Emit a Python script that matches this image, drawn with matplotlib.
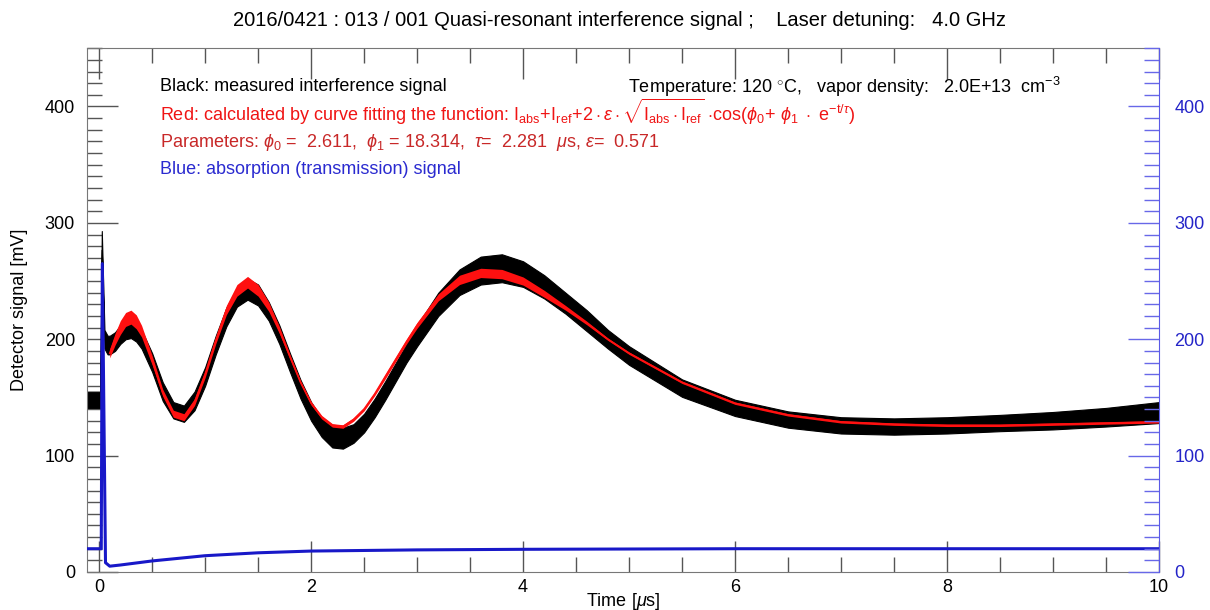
import numpy as np
import matplotlib.pyplot as plt
from matplotlib.ticker import MultipleLocator

plt.rcParams['font.family'] = ['Liberation Sans', 'DejaVu Sans']
plt.rcParams['mathtext.fontset'] = 'custom'
plt.rcParams['mathtext.rm'] = 'Liberation Sans'
plt.rcParams['mathtext.it'] = 'Liberation Sans:italic'
plt.rcParams['mathtext.sf'] = 'Liberation Sans'

# Measured interference signal (black band: centre and half-width), mV
t_meas = [-0.11, 0.0, 0.01, 0.025, 0.05, 0.08, 0.10, 0.15, 0.20, 0.25, 0.30, 0.35, 0.40,
          0.50, 0.60, 0.70, 0.80, 0.90, 1.00, 1.10, 1.20, 1.30, 1.40, 1.50, 1.60, 1.70,
          1.80, 1.90, 2.00, 2.10, 2.20, 2.30, 2.40, 2.50, 2.60, 2.70, 2.80, 2.90, 3.00,
          3.20, 3.40, 3.60, 3.80, 4.00, 4.20, 4.40, 4.60, 4.80, 5.00, 5.50, 6.00, 6.50,
          7.00, 7.50, 8.00, 8.50, 9.00, 9.50, 10.0]
meas = [148, 148, 148, 285, 200, 195, 195, 198, 204, 208, 209, 206, 200,
        180, 155, 139, 136, 147, 168, 195, 219, 236, 243, 238, 224, 204,
        180, 157, 138, 124, 116, 115, 119, 128, 141, 156, 172, 188, 203,
        230, 249, 259, 261, 256, 245, 231, 216, 200, 186, 158, 141, 131,
        126, 125, 126, 128, 130, 133, 137]
meas_spread = [7, 7, 7, 8, 8, 8, 8, 8, 8, 8, 8, 8, 8,
               8, 8, 7, 7, 8, 8, 8, 8, 8, 9, 9, 8, 8,
               8, 8, 8, 8, 9, 9, 8, 8, 8, 8, 8, 8, 9,
               10, 11, 12, 12, 11, 10, 9, 9, 8, 8, 7.5, 7, 7,
               7, 7, 7, 7, 7.5, 8, 9]

# Fitted curve (red): centre and band half-width, mV
t_fit = [0.10, 0.15, 0.20, 0.25, 0.30, 0.35, 0.40, 0.50, 0.60, 0.70, 0.80, 0.90, 1.00,
         1.10, 1.20, 1.30, 1.40, 1.50, 1.60, 1.70, 1.80, 1.90, 2.00, 2.10, 2.20, 2.30,
         2.40, 2.50, 2.60, 2.70, 2.80, 2.90, 3.00, 3.20, 3.40, 3.60, 3.80, 4.00, 4.20,
         4.40, 4.60, 4.80, 5.00, 5.50, 6.00, 6.50, 7.00, 7.50, 8.00, 8.50, 9.00, 9.50, 10.0]
fit = [188, 200, 210, 217, 219, 215, 207, 182, 154, 136, 133, 146, 170,
       199, 225, 242, 249, 242, 228, 208, 185, 163, 145, 133, 126, 125,
       131, 140, 153, 168, 183, 198, 212, 236, 251, 257, 256, 250, 239,
       227, 214, 200, 188, 163, 145, 135, 129, 127, 126, 126, 127, 128, 129]
fit_spread = [4, 5, 6, 6, 6, 6, 5, 4, 3, 3, 3, 3, 3,
              3, 4, 5, 5, 5, 4, 3, 2, 1.5, 1.5, 1.5, 1.5, 1.5,
              1.5, 1.5, 1.5, 2, 2, 2, 2.5, 3, 4, 4, 4, 3.5, 3,
              2, 1.5, 1, 1, 1, 1, 1, 1, 1, 1, 1, 1, 1, 1]

# Absorption (transmission) signal (blue), mV
t_abs = [-0.11, 0.02, 0.03, 0.06, 0.10, 0.20, 0.50, 1.00, 1.50, 2.00, 3.00, 4.00,
         6.00, 8.00, 10.0]
absorb = [20, 20, 265, 8, 5, 6, 9.5, 14, 16.5, 18, 19, 19.5, 20, 20, 20]

x_ticks = [0, 2, 4, 6, 8, 10]
y_ticks = [0, 100, 200, 300, 400]

fig = plt.figure(figsize=(12.1, 6.1), dpi=100)
ax = fig.add_axes([0.0723, 0.0623, 0.8856, 0.8585])

t_meas = np.array(t_meas)
meas = np.array(meas)
meas_spread = np.array(meas_spread)
t_fit = np.array(t_fit)
fit = np.array(fit)
fit_spread = np.array(fit_spread)

# black measured band
ax.fill_between(t_meas, meas - meas_spread, meas + meas_spread, color='black', lw=0.8, zorder=2)
# red fit
ax.fill_between(t_fit, fit - fit_spread, fit + fit_spread, color='#ff1010', lw=0, zorder=3)
ax.plot(t_fit, fit, color='#ff1010', lw=1.2, zorder=3)
# blue absorption
ax.plot(t_abs, absorb, color='#1818c8', lw=2.2, zorder=4)

ax.set_xlim(-0.11, 10)
ax.set_ylim(0, 450)
ax.set_xticks(x_ticks)
ax.set_yticks(y_ticks)
ax.xaxis.set_minor_locator(MultipleLocator(0.5))
ax.yaxis.set_minor_locator(MultipleLocator(10))
ax.tick_params(axis='both', which='major', direction='in', length=22, width=1.0,
               color='#555555', labelsize=13, top=True, right=False)
ax.tick_params(axis='both', which='minor', direction='in', length=10.5, width=1.0,
               color='#555555', top=True, right=False)
ax.tick_params(axis='x', which='major', pad=5)
ax.tick_params(axis='y', which='major', pad=9)
for s in ['left', 'bottom', 'top']:
    ax.spines[s].set_color('#777777')
ax.spines['right'].set_visible(False)

# right axis in blue, same scale
ax2 = ax.twinx()
ax2.set_ylim(0, 450)
ax2.set_yticks(y_ticks)
ax2.yaxis.set_minor_locator(MultipleLocator(10))
ax2.tick_params(axis='y', which='major', direction='in', length=22, width=1.0,
                color='#6868e8', labelcolor='#2424c8', labelsize=13, pad=11)
ax2.tick_params(axis='y', which='minor', direction='in', length=11, width=1.0, color='#6868e8')
ax2.spines['right'].set_color('#5a5ae6')
for s in ['left', 'bottom', 'top']:
    ax2.spines[s].set_visible(False)

ax.set_xlabel(r'Time [$\mu$s]', fontsize=13)
ax.xaxis.set_label_coords(0.5, -0.036)
ax.set_ylabel('Detector signal [mV]', fontsize=13, labelpad=12)

fig.text(0.512, 0.967, '2016/0421 : 013 / 001 Quasi-resonant interference signal ;    '
         'Laser detuning:   4.0 GHz', ha='center', va='center', fontsize=14.5)

# annotations
ax.text(0.575, 417, 'Black: measured interference signal', fontsize=13, va='center')
ax.text(4.99, 417, r'Temperature: 120 $^{\circ}$C,   vapor density:   2.0E+13  cm$^{-3}$',
        fontsize=13, va='center')
ax.text(0.575, 395, r'Red: calculated by curve fitting the function: '
        r'$\mathrm{I_{abs}\!+\!I_{ref}\!+\!2\cdot}\varepsilon\cdot\sqrt{\mathrm{I_{abs}\cdot I_{ref}}}'
        r'\ \mathrm{\cdot cos(}\phi_0\mathrm{+}\ \phi_1\ \cdot\ \mathrm{e^{-t/}}^{\tau}\mathrm{)}$',
        fontsize=13, va='center', color='#f01414')
ax.text(0.575, 369, r'Parameters: $\phi_0$ =  2.611,  $\phi_1$ = 18.314,  $\tau$=  2.281  '
        r'$\mu$s, $\varepsilon$=  0.571', fontsize=13, va='center', color='#c82828')
ax.text(0.575, 346, 'Blue: absorption (transmission) signal', fontsize=13, va='center',
        color='#2a2ad0')

plt.savefig('out.png', dpi=100)
